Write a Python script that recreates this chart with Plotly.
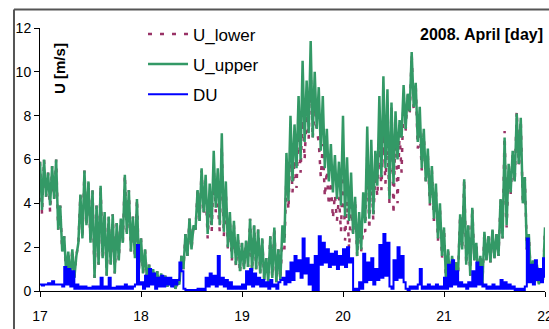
import plotly.graph_objects as go

# time axis: April 2008, day 17.00 .. 22.00 in steps of 0.02 day
t_start = 17.0
t_step = 0.02

u_upper = [
    5.9, 3.7, 6.0, 4.3, 5.4, 3.9, 5.7, 4.2, 6.0, 2.8,
    3.9, 1.8, 2.5, 0.7, 1.8, 0.5, 1.9, 0.6, 1.6, 2.2,
    4.4, 2.4, 5.5, 3.0, 5.0, 2.2, 4.6, 0.6, 3.9, 1.2,
    4.8, 1.5, 3.6, 0.7, 3.4, 1.2, 3.5, 0.8, 3.1, 1.4,
    3.3, 2.2, 5.3, 2.6, 4.6, 1.8, 3.4, 1.5, 4.2, 1.0,
    2.4, 0.8, 1.9, 0.4, 1.2, 0.4, 1.0, 0.3, 0.9, 0.2,
    0.8, 0.3, 0.7, 0.2, 0.6, 0.2, 0.5, 0.1, 0.4, 0.3,
    1.6, 1.0, 2.6, 1.6, 3.3, 1.9, 3.0, 2.8, 4.6, 3.2,
    5.6, 3.6, 5.3, 2.6, 4.9, 3.0, 6.4, 3.8, 5.6, 3.0,
    7.2, 2.7, 5.0, 2.0, 3.6, 1.5, 3.2, 1.2, 2.6, 0.9,
    2.2, 1.0, 2.3, 1.1, 3.3, 0.9, 3.0, 1.0, 2.8, 0.8,
    2.4, 0.5, 1.5, 0.4, 2.5, 0.6, 2.9, 0.4, 1.9, 0.5,
    3.0, 2.2, 6.3, 4.1, 8.0, 5.0, 7.6, 5.6, 8.9, 6.0,
    10.5, 6.8, 9.6, 7.2, 11.4, 7.0, 10.0, 7.4, 9.3, 6.4,
    8.9, 5.6, 7.4, 5.0, 6.7, 4.5, 6.2, 4.2, 5.9, 3.9,
    8.0, 3.4, 6.1, 3.2, 5.4, 2.6, 4.3, 1.6, 3.6, 1.9,
    4.5, 3.1, 7.5, 3.3, 6.9, 3.5, 6.4, 4.8, 8.9, 5.2,
    9.8, 5.6, 9.2, 4.2, 8.6, 4.9, 8.2, 6.0, 7.8, 7.0,
    9.4, 7.4, 9.0, 8.2, 10.9, 8.4, 9.5, 6.8, 8.4, 5.6,
    7.4, 5.0, 6.5, 4.0, 5.7, 3.3, 4.9, 2.4, 4.0, 1.6,
    2.9, 0.4, 1.9, 0.4, 1.6, 0.5, 1.3, 0.9, 3.5, 1.9,
    5.1, 1.2, 3.0, 0.7, 3.8, 1.4, 2.2, 0.5, 1.6, 0.3,
    2.7, 1.4, 2.5, 1.3, 2.8, 1.5, 2.6, 1.6, 4.2, 2.4,
    7.0, 3.0, 5.8, 4.5, 6.4, 5.0, 8.1, 5.8, 7.9, 4.0,
    5.2, 1.9, 2.6, 0.6, 1.4, 0.4, 1.2, 0.3, 1.0, 0.5, 2.9,
]

u_lower = [
    5.9, 3.5, 6.0, 4.3, 5.4, 3.6, 5.7, 4.2, 6.0, 2.8,
    3.9, 1.8, 2.5, 0.4, 1.8, 0.5, 1.9, 0.6, 1.6, 2.2,
    4.4, 2.4, 5.5, 3.0, 5.0, 2.2, 4.6, 0.6, 3.9, 1.2,
    4.8, 1.5, 3.6, 0.7, 3.4, 1.2, 3.5, 0.8, 3.1, 1.4,
    3.3, 2.2, 5.3, 2.6, 4.6, 1.8, 3.4, 1.5, 4.2, 1.0,
    2.4, 0.8, 1.9, 0.4, 1.2, 0.4, 1.0, 0.3, 0.9, 0.2,
    0.8, 0.3, 0.7, 0.2, 0.6, 0.2, 0.5, 0.1, 0.4, 0.3,
    1.6, 1.0, 2.6, 1.6, 3.3, 1.9, 3.0, 2.8, 4.6, 3.2,
    5.5, 3.5, 4.7, 2.4, 4.1, 2.7, 5.7, 3.6, 4.0, 2.7,
    6.6, 2.5, 4.5, 1.9, 3.2, 1.4, 3.0, 1.1, 2.4, 0.8,
    2.2, 1.0, 2.3, 1.1, 3.3, 0.9, 3.0, 1.0, 2.8, 0.8,
    2.4, 0.5, 1.5, 0.4, 2.5, 0.6, 2.9, 0.4, 1.9, 0.5,
    2.4, 1.9, 5.4, 3.7, 6.7, 4.5, 6.0, 4.7, 7.5, 5.4,
    8.1, 6.0, 8.1, 6.9, 10.2, 6.95, 8.4, 7.35, 6.8, 5.2,
    6.7, 4.3, 5.5, 3.9, 5.0, 3.3, 4.4, 3.2, 4.3, 2.7,
    6.1, 2.3, 4.1, 1.9, 3.9, 2.55, 4.2, 1.55, 3.2, 1.8,
    2.8, 2.7, 6.2, 2.8, 5.4, 3.2, 5.4, 4.3, 6.8, 4.6,
    7.2, 4.9, 7.0, 4.0, 8.5, 3.5, 7.7, 4.0, 7.2, 5.4,
    9.0, 7.3, 8.95, 8.0, 10.8, 8.2, 9.4, 6.5, 7.4, 5.5,
    7.2, 4.9, 6.2, 3.9, 5.5, 3.2, 4.6, 2.3, 3.8, 1.5,
    2.9, 0.4, 1.9, 0.4, 1.6, 0.5, 1.3, 0.9, 3.5, 1.9,
    5.1, 1.2, 3.0, 0.7, 3.8, 1.4, 2.2, 0.5, 1.6, 0.3,
    2.7, 1.4, 2.5, 1.3, 2.8, 1.5, 2.6, 1.6, 4.2, 2.4,
    7.3, 2.9, 5.5, 4.4, 6.2, 4.95, 8.2, 5.75, 7.8, 3.95,
    5.2, 1.9, 2.6, 0.6, 1.4, 0.4, 1.2, 0.3, 1.0, 0.5, 2.9,
]

du = [
    0.3, 0.25, 0.3, 0.3, 0.35, 0.3, 0.45, 0.3, 0.3, 0.3,
    0.3, 0.2, 1.1, 0.3, 1.0, 0.2, 0.9, 0.1, 0.3, 0.1,
    0.2, 0.1, 0.2, 0.1, 0.15, 0.1, 0.2, 0.1, 0.2, 0.1,
    0.6, 0.1, 0.2, 0.1, 0.6, 0.1, 0.15, 0.1, 0.2, 0.1,
    0.2, 0.1, 0.3, 0.1, 0.2, 0.1, 0.2, 0.3, 2.1, 0.3,
    0.4, 0.1, 0.7, 0.2, 1.0, 0.3, 0.8, 0.1, 0.6, 0.2,
    0.7, 0.2, 0.6, 0.3, 0.6, 0.2, 0.5, 0.3, 0.5, 1.3,
    0.9, 0.1, 0.05, 0.05, 0.05, 0.05, 0.05, 0.05, 0.1, 0.05,
    0.1, 0.05, 0.6, 0.2, 0.8, 0.3, 0.7, 0.2, 1.6, 0.3,
    0.6, 0.2, 0.5, 0.1, 0.4, 0.1, 0.2, 0.1, 0.2, 0.1,
    0.3, 0.1, 0.9, 0.3, 1.0, 0.2, 0.8, 0.3, 0.6, 0.2,
    0.5, 0.2, 0.4, 0.1, 0.5, 0.2, 0.3, 0.1, 0.4, 0.5,
    0.6, 0.3, 0.9, 0.4, 1.3, 0.5, 1.6, 0.9, 1.4, 0.6,
    2.4, 0.8, 1.5, 0.3, 1.2, 0.05, 1.6, 0.05, 2.5, 1.2,
    2.2, 1.3, 1.9, 1.1, 1.7, 1.2, 1.8, 1.0, 1.6, 1.2,
    1.9, 1.1, 2.0, 1.3, 1.5, 0.05, 0.1, 0.05, 0.4, 0.1,
    1.7, 0.4, 1.3, 0.5, 1.5, 0.3, 1.0, 0.5, 2.1, 0.6,
    2.6, 0.7, 2.2, 0.2, 0.1, 1.4, 0.5, 2.0, 0.6, 1.6,
    0.4, 0.1, 0.05, 0.2, 0.1, 0.2, 0.1, 0.3, 1.0, 0.1,
    0.2, 0.1, 0.3, 0.1, 0.2, 0.1, 0.3, 0.1, 0.2, 0.1,
    0.6, 0.1, 1.2, 0.2, 1.4, 0.3, 0.9, 0.2, 0.4, 0.2,
    0.3, 0.1, 0.4, 0.2, 0.9, 0.2, 1.3, 0.3, 1.1, 0.2,
    0.3, 0.1, 0.2, 0.1, 0.3, 0.1, 0.2, 0.1, 0.5, 0.1,
    0.4, 0.1, 0.3, 0.1, 0.2, 0.05, 0.1, 0.05, 0.1, 0.05,
    0.2, 2.4, 0.4, 1.2, 0.3, 1.4, 0.5, 1.0, 0.4, 1.5, 0.6,
]

x_ticks = [17, 18, 19, 20, 21, 22]
y_ticks = [0, 2, 4, 6, 8, 10, 12]

days = [t_start + t_step * i for i in range(len(u_upper))]

FONT = "Liberation Sans, Arial, sans-serif"

fig = go.Figure()
fig.add_trace(go.Scatter(x=days, y=u_lower, mode="lines", name="U_lower",
                         legendgroup="a",
                         line=dict(color="#993366", width=2.5, dash="4px,8px")))
fig.add_trace(go.Scatter(x=days, y=u_upper, mode="lines", name="U_upper",
                         legendgroup="b",
                         line=dict(color="#339966", width=2.5)))
fig.add_trace(go.Scatter(x=days, y=du, mode="lines", name="DU",
                         legendgroup="c",
                         line=dict(color="#0000FF", width=2, shape="hv")))

axis_common = dict(showgrid=False, zeroline=False, showline=True,
                   linecolor="black", linewidth=1, ticks="outside",
                   ticklen=5, tickcolor="black", ticklabeloverflow="allow",
                   automargin=False,
                   tickfont=dict(family=FONT, size=14, color="black"))

fig.update_layout(
    width=549, height=329,
    margin=dict(l=40, r=4, t=28, b=38, autoexpand=False),
    paper_bgcolor="white", plot_bgcolor="white",
    showlegend=True,
    legend=dict(x=0.204, y=1.044, xanchor="left", yanchor="top",
                bgcolor="rgba(0,0,0,0)", tracegroupgap=5, itemwidth=40,
                font=dict(family=FONT, size=17, color="black")),
    xaxis=dict(range=[17, 22], tickvals=x_ticks, ticklabelstandoff=7,
               **axis_common),
    yaxis=dict(range=[0, 12], tickvals=y_ticks, **axis_common),
    annotations=[
        dict(text="<b>U [m/s]</b>", textangle=-90, xref="paper", yref="paper",
             x=0.04, y=0.845, xanchor="center", yanchor="middle", showarrow=False,
             font=dict(family=FONT, size=15, color="black")),
        dict(text="<b>2008. April [day]</b>", xref="paper", yref="paper",
             x=1.0, y=0.975, xanchor="right", yanchor="middle", showarrow=False,
             font=dict(family=FONT, size=16, color="black")),
    ],
    shapes=[
        dict(type="line", xref="paper", yref="paper", x0=-0.0515, x1=-0.0515,
             y0=1.07, y1=-0.2, line=dict(color="#555555", width=2)),
        dict(type="line", xref="paper", yref="paper", x0=-0.0515, x1=1.02,
             y0=1.07, y1=1.07, line=dict(color="#555555", width=2)),
    ],
)

fig.write_html("out.html", config={"displayModeBar": False},
               post_script="document.body.style.margin='0';")
